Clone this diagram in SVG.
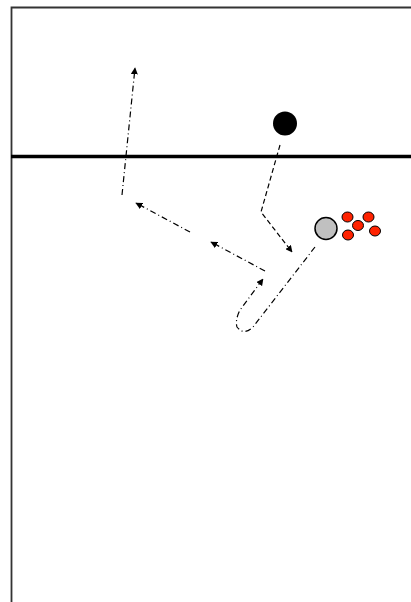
<svg xmlns="http://www.w3.org/2000/svg" width="411" height="602" viewBox="0 0 411 602">
<style>
.dd{fill:none;stroke:#000;stroke-width:1.2;stroke-dasharray:6 3 1 3}
.da{fill:none;stroke:#000;stroke-width:1.2;stroke-dasharray:5 3}
.red{fill:#ff2200;stroke:#000;stroke-width:1}
</style>
<defs>
<marker id="ah" viewBox="0 0 10 10" refX="9" refY="5" markerWidth="7" markerHeight="7" markerUnits="userSpaceOnUse" orient="auto">
<path d="M0,0 L10,5 L0,10 Z" fill="#000"/>
</marker>
</defs>
<rect width="411" height="602" fill="#fff"/>
<g id="field">
<path d="M411,7.5 H11.5 V602" fill="none" stroke="#333" stroke-width="1.8"/>
<line x1="11" y1="156.5" x2="411" y2="156.5" stroke="#000" stroke-width="3.5"/>
</g>
<g id="connectors">
<path class="da" d="M280,145 L261,212 L292,252" marker-end="url(#ah)"/>
<path class="dd" d="M315,247 L253,327 Q244,336 237,327 Q235,320 240,310 L263,279" marker-end="url(#ah)"/>
<path class="dd" d="M265,271 L211,242" marker-end="url(#ah)"/>
<path class="dd" d="M190,232 L136,203" marker-end="url(#ah)"/>
<path class="dd" d="M122,195 L135,68" marker-end="url(#ah)"/>
</g>
<g id="player-black"><circle cx="285" cy="123.5" r="12" fill="#000"/></g>
<g id="player-gray"><circle cx="326" cy="228.5" r="11" fill="#c0c0c0" stroke="#000" stroke-width="1.5"/></g>
<g id="balls">
<ellipse class="red" cx="347.5" cy="217" rx="5.5" ry="5"/>
<ellipse class="red" cx="358" cy="225.5" rx="5.5" ry="5"/>
<ellipse class="red" cx="368.5" cy="217" rx="5.5" ry="5"/>
<ellipse class="red" cx="348" cy="235" rx="5.5" ry="5"/>
<ellipse class="red" cx="375" cy="231" rx="5.5" ry="5"/>
</g>
</svg>
